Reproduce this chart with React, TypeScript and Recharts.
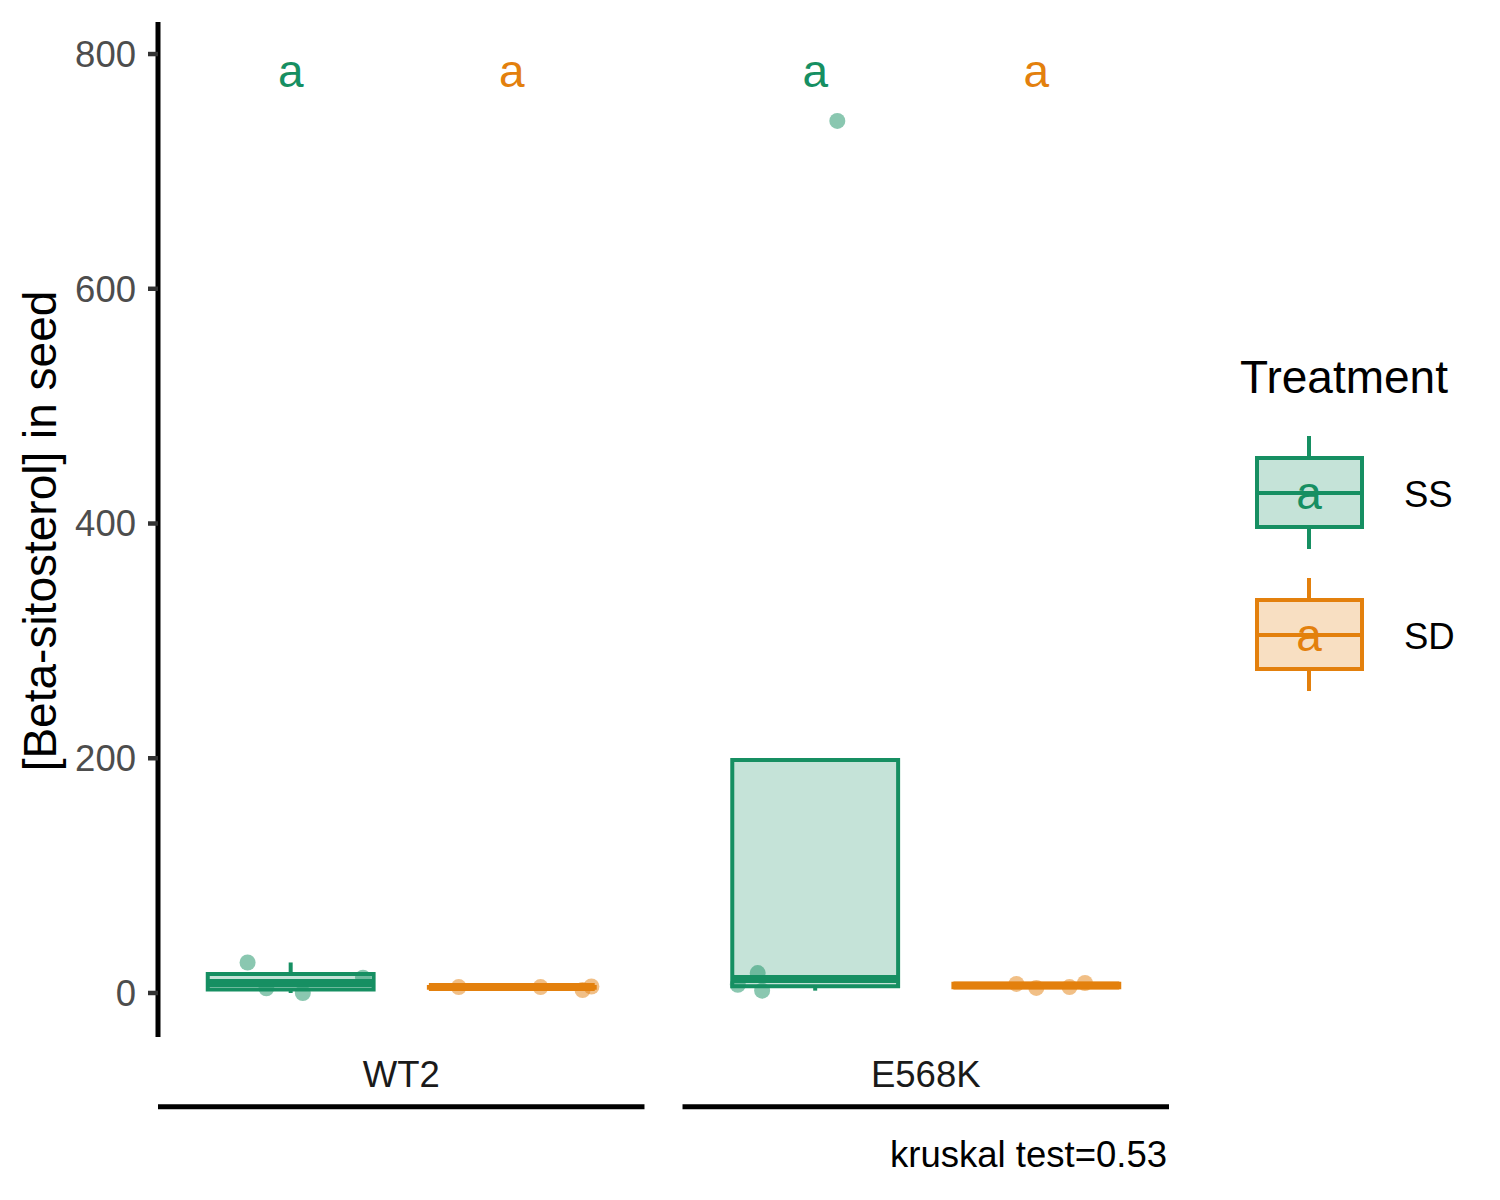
import React from "react";
import {
  ComposedChart,
  XAxis,
  YAxis,
  Scatter,
  ReferenceArea,
  ReferenceLine,
} from "recharts";

const FONT = '"Liberation Sans", Arial, Helvetica, sans-serif';

const GENOTYPES = ["WT2", "E568K"];
const TREATMENTS = ["SS", "SD"];
const COLORS: Record<string, string> = { SS: "#168F62", SD: "#E3800D" };

// values, per genotype x treatment
const WT2_SS = [26, 4, 0, 13];
const WT2_SD = [5, 5, 2.5, 5.5];
const E568K_SS = [7, 17, 2, 743];
const E568K_SD = [7.7, 4.3, 5, 8.5];

// horizontal jitter of the points (box units)
const WT2_SS_JIT = [-0.195, -0.11, 0.055, 0.327];
const WT2_SD_JIT = [-0.24, 0.13, 0.32, 0.36];
const E568K_SS_JIT = [-0.35, -0.26, -0.24, 0.1];
const E568K_SD_JIT = [-0.09, 0.0, 0.15, 0.22];

// compact letter display, same order as GROUPS
const LETTERS = ["a", "a", "a", "a"];
const LETTER_Y = 772;

const Y_TICKS = [0, 200, 400, 600, 800];
const Y_DOMAIN = [-37.5, 827.3];
const KRUSKAL_P = "0.53";

// facet layout (discrete scale: 2 levels, 0.6 expansion each side)
const PANEL_W = 2.2;
const PANEL_GAP = 0.172;
const BOX_W = 0.75;
const STRIP_Y = -97;
const X_MAX = 0.4 + 2 * PANEL_W + PANEL_GAP;

const panelStart = (g: number) => 0.4 + g * (PANEL_W + PANEL_GAP);
const PANEL_CENTERS = GENOTYPES.map((_, g) => panelStart(g) + PANEL_W / 2);

const GROUPS = [
  { g: 0, t: 0, values: WT2_SS, jitter: WT2_SS_JIT },
  { g: 0, t: 1, values: WT2_SD, jitter: WT2_SD_JIT },
  { g: 1, t: 0, values: E568K_SS, jitter: E568K_SS_JIT },
  { g: 1, t: 1, values: E568K_SD, jitter: E568K_SD_JIT },
].map((d, i) => ({
  ...d,
  treatment: TREATMENTS[d.t],
  pos: panelStart(d.g) + 0.6 + d.t,
  letter: LETTERS[i],
}));

function quantile(sorted: number[], p: number) {
  const h = (sorted.length - 1) * p;
  const lo = Math.floor(h);
  const hi = Math.ceil(h);
  return sorted[lo] + (h - lo) * (sorted[hi] - sorted[lo]);
}

function boxStats(values: number[]) {
  const s = [...values].sort((a, b) => a - b);
  const q1 = quantile(s, 0.25);
  const med = quantile(s, 0.5);
  const q3 = quantile(s, 0.75);
  const iqr = q3 - q1;
  const lower = Math.min(...s.filter((v) => v >= q1 - 1.5 * iqr));
  const upper = Math.max(...s.filter((v) => v <= q3 + 1.5 * iqr));
  return { q1, med, q3, lower, upper };
}

const pointsFor = (treatment: string) =>
  GROUPS.filter((d) => d.treatment === treatment).flatMap((d) =>
    d.values.map((v, i) => ({ x: d.pos + d.jitter[i], y: v }))
  );

const letterData = GROUPS.map((d) => ({
  x: d.pos,
  y: LETTER_Y,
  label: d.letter,
  color: COLORS[d.treatment],
}));

const GenoTick = (props: any) => {
  const { x, y, index } = props;
  return (
    <text x={x} y={y + 50} textAnchor="middle" fontSize={36.5} fill="#1A1A1A">
      {GENOTYPES[index]}
    </text>
  );
};

const LetterShape = (props: any) => (
  <text
    x={props.cx}
    y={props.cy}
    textAnchor="middle"
    fontSize={46}
    fill={props.payload.color}
  >
    {props.payload.label}
  </text>
);

export default function App() {
  return (
    <div
      style={{
        position: "absolute",
        left: 0,
        top: 0,
        width: 1500,
        height: 1200,
        background: "#fff",
        fontFamily: FONT,
      }}
    >
      <ComposedChart
        width={1500}
        height={1200}
        margin={{ top: 22, right: 331, bottom: 63, left: 58 }}
      >
        <XAxis
          type="number"
          dataKey="x"
          domain={[0.4, X_MAX]}
          ticks={PANEL_CENTERS}
          interval={0}
          allowDataOverflow
          axisLine={false}
          tickLine={false}
          tickSize={0}
          tickMargin={0}
          height={100}
          tick={<GenoTick />}
        />
        <YAxis
          type="number"
          dataKey="y"
          domain={Y_DOMAIN}
          ticks={Y_TICKS}
          allowDataOverflow
          width={100}
          axisLine={{ stroke: "#000", strokeWidth: 5 }}
          tickLine={{ stroke: "#333", strokeWidth: 4.5 }}
          tickSize={10}
          tickMargin={12}
          tick={{ fill: "#4D4D4D", fontSize: 36.5 }}
        />

        {TREATMENTS.map((t) => (
          <Scatter
            key={`pts-${t}`}
            data={pointsFor(t)}
            fill={COLORS[t]}
            fillOpacity={0.5}
            isAnimationActive={false}
            zIndex={50}
            shape={(p: any) => (
              <circle cx={p.cx} cy={p.cy} r={8} fill={COLORS[t]} fillOpacity={0.5} />
            )}
          />
        ))}

        {GROUPS.map((d) => {
          const s = boxStats(d.values);
          const c = COLORS[d.treatment];
          const x0 = d.pos - BOX_W / 2;
          const x1 = d.pos + BOX_W / 2;
          return (
            <React.Fragment key={`box-${d.g}-${d.t}`}>
              {s.upper > s.q3 && (
                <ReferenceLine
                  segment={[
                    { x: d.pos, y: s.q3 },
                    { x: d.pos, y: s.upper },
                  ]}
                  stroke={c}
                  strokeWidth={4}
                  ifOverflow="visible"
                />
              )}
              {s.lower < s.q1 && (
                <ReferenceLine
                  segment={[
                    { x: d.pos, y: s.q1 },
                    { x: d.pos, y: s.lower },
                  ]}
                  stroke={c}
                  strokeWidth={4}
                  ifOverflow="visible"
                />
              )}
              <ReferenceArea
                x1={x0}
                x2={x1}
                y1={s.q1}
                y2={s.q3}
                fill={c}
                fillOpacity={0.25}
                stroke={c}
                strokeWidth={4}
                ifOverflow="visible"
              />
              <ReferenceLine
                segment={[
                  { x: x0, y: s.med },
                  { x: x1, y: s.med },
                ]}
                stroke={c}
                strokeWidth={8}
                ifOverflow="visible"
              />
            </React.Fragment>
          );
        })}

        {GENOTYPES.map((g, i) => (
          <ReferenceLine
            key={`strip-${g}`}
            segment={[
              { x: panelStart(i), y: STRIP_Y },
              { x: panelStart(i) + PANEL_W, y: STRIP_Y },
            ]}
            stroke="#000"
            strokeWidth={5}
            ifOverflow="visible"
          />
        ))}

        <Scatter
          data={letterData}
          isAnimationActive={false}
          zIndex={900}
          shape={<LetterShape />}
        />
      </ComposedChart>

      <svg
        width={1500}
        height={1200}
        style={{ position: "absolute", left: 0, top: 0, pointerEvents: "none" }}
        fontFamily={FONT}
      >
        <text
          transform="translate(56,531) rotate(-90)"
          textAnchor="middle"
          fontSize={46}
          fill="#000"
        >
          [Beta-sitosterol] in seed
        </text>

        <text x={1167} y={1167} textAnchor="end" fontSize={36.5} fill="#000">
          kruskal test={KRUSKAL_P}
        </text>

        <text x={1240} y={393} fontSize={46} fill="#000">
          Treatment
        </text>
        {TREATMENTS.map((t, i) => {
          const top = 436 + i * 142;
          const c = COLORS[t];
          return (
            <g key={`leg-${t}`}>
              <line x1={1309} x2={1309} y1={top} y2={top + 22} stroke={c} strokeWidth={4} />
              <line x1={1309} x2={1309} y1={top + 91} y2={top + 113} stroke={c} strokeWidth={4} />
              <rect
                x={1257}
                y={top + 22}
                width={105}
                height={69}
                fill={c}
                fillOpacity={0.25}
                stroke={c}
                strokeWidth={4}
              />
              <line x1={1257} x2={1362} y1={top + 57} y2={top + 57} stroke={c} strokeWidth={4} />
              <text x={1309} y={top + 73} textAnchor="middle" fontSize={46} fill={c}>
                a
              </text>
              <text x={1404} y={top + 71} fontSize={36.5} fill="#000">
                {t}
              </text>
            </g>
          );
        })}
      </svg>
    </div>
  );
}
